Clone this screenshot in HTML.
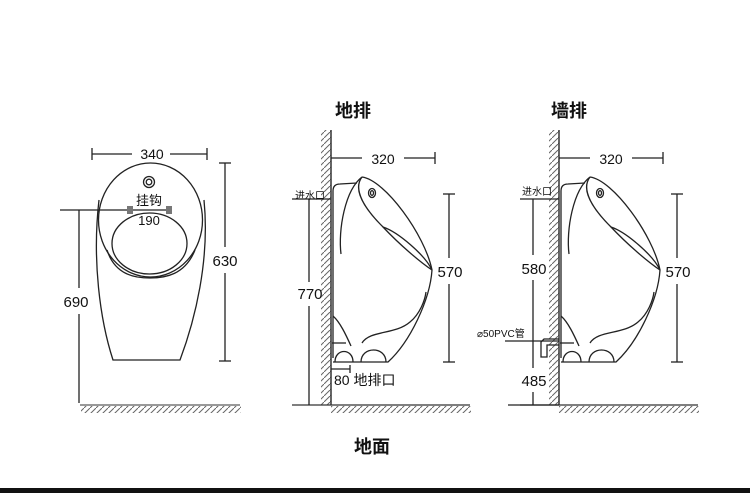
<!DOCTYPE html>
<html><head><meta charset="utf-8"><style>
html,body{margin:0;padding:0;background:#fff;}
svg{display:block;}
text{font-family:"Liberation Sans","Noto Sans CJK SC",sans-serif;fill:#111;}
</style></head><body>
<svg width="750" height="493" viewBox="0 0 750 493" xmlns="http://www.w3.org/2000/svg">
<defs>
<pattern id="hv" width="6" height="6" patternUnits="userSpaceOnUse">
<line x1="0" y1="6" x2="6" y2="0" stroke="#666" stroke-width="1"/>
</pattern>
<g id="side" fill="none" stroke="#222" stroke-width="1.3">
  <!-- wall -->
  <rect x="321" y="130" width="10" height="275" fill="url(#hv)" stroke="none"/>
  <line x1="331" y1="130" x2="331" y2="405" stroke="#333" stroke-width="1.5"/>
  <!-- ground -->
  <rect x="331" y="406" width="140" height="7" fill="url(#hv)" stroke="none"/>
  <line x1="292" y1="405" x2="470" y2="405" stroke="#333"/>
  <!-- 320 dim -->
  <line x1="331" y1="158" x2="362" y2="158"/>
  <line x1="404" y1="158" x2="435" y2="158"/>
  <line x1="435" y1="152" x2="435" y2="164"/>
  <!-- 570 dim -->
  <line x1="449" y1="194" x2="449" y2="258"/>
  <line x1="449" y1="284" x2="449" y2="362"/>
  <line x1="443" y1="194" x2="455" y2="194"/>
  <line x1="443" y1="362" x2="455" y2="362"/>
  <!-- urinal -->
  <path d="M333,358 L333,191 Q333,184 340,184 L357,183"/>
  <path d="M362,177 C385,180 425,235 432,270 C430,300 410,342 388,362 L333,362"/>
  <path d="M362,177 C345,190 338,230 341,254"/>
  <path d="M362,177 C352,190 366,210 383,227 C400,245 420,262 432,270"/>
  <path d="M383,227 C398,232 425,255 432,270"/>
  <ellipse cx="372" cy="193" rx="3.5" ry="4.5"/>
  <ellipse cx="372" cy="193" rx="1.5" ry="2.3"/>
  <path d="M333,316 C340,322 346,335 351,346"/>
  <line x1="332" y1="343" x2="346" y2="343"/>
  <path d="M335,362 C335,348 353,348 353,362"/>
  <path d="M361,362 C361,346 386,346 386,362"/>
  <path d="M362,343 C370,330 395,335 410,322 C420,314 425,300 426,292"/>
</g>
</defs>

<!-- titles -->
<text x="353" y="117" font-size="18" font-weight="bold" text-anchor="middle">地排</text>
<text x="569" y="117" font-size="18" font-weight="bold" text-anchor="middle">墙排</text>
<text x="372" y="453" font-size="18" font-weight="bold" text-anchor="middle">地面</text>
<rect x="0" y="488" width="750" height="5" fill="#111"/>

<!-- FRONT VIEW -->
<g fill="none" stroke="#222" stroke-width="1.3">
  <line x1="92" y1="154" x2="132" y2="154"/>
  <line x1="170" y1="154" x2="207" y2="154"/>
  <line x1="92" y1="148" x2="92" y2="160"/>
  <line x1="207" y1="148" x2="207" y2="160"/>
  <path d="M99,200 C92,260 100,320 113,360 L180,360 C195,320 210,260 204,200"/>
  <ellipse cx="150.5" cy="220" rx="52" ry="57"/>
  <ellipse cx="149.5" cy="243.5" rx="37.5" ry="30.5"/>
  <path d="M107,250 C115,275 135,278 150,278 C165,278 185,275 195,250"/>
  <circle cx="149" cy="182" r="5.5"/>
  <circle cx="149" cy="182" r="2.8"/>
  <line x1="60" y1="210" x2="170" y2="210"/>
  <line x1="79" y1="210" x2="79" y2="288"/>
  <line x1="79" y1="314" x2="79" y2="403"/>
  <line x1="225" y1="163" x2="225" y2="247"/>
  <line x1="225" y1="273" x2="225" y2="361"/>
  <line x1="219" y1="163" x2="231" y2="163"/>
  <line x1="219" y1="361" x2="231" y2="361"/>
</g>
<rect x="127" y="206" width="6" height="8" fill="#777"/>
<rect x="166" y="206" width="6" height="8" fill="#777"/>
<rect x="81" y="406" width="160" height="7" fill="url(#hv)"/>
<line x1="80" y1="405" x2="240" y2="405" stroke="#333"/>
<text x="152" y="159" font-size="14" text-anchor="middle">340</text>
<text x="149" y="205" font-size="13" text-anchor="middle">挂钩</text>
<text x="149" y="225" font-size="13" text-anchor="middle">190</text>
<text x="76" y="307" font-size="15" text-anchor="middle">690</text>
<text x="225" y="266" font-size="15" text-anchor="middle">630</text>

<!-- MIDDLE VIEW -->
<use href="#side"/>
<g fill="none" stroke="#222" stroke-width="1.3">
  <line x1="292" y1="199" x2="331" y2="199"/>
  <line x1="309" y1="199" x2="309" y2="282"/>
  <line x1="309" y1="306" x2="309" y2="405"/>
  <line x1="331" y1="369" x2="350" y2="369"/>
  <line x1="350" y1="365" x2="350" y2="373"/>
</g>
<text x="383" y="164" font-size="14" text-anchor="middle">320</text>
<text x="450" y="277" font-size="15" text-anchor="middle">570</text>
<text x="310" y="199" font-size="10" text-anchor="middle">进水口</text>
<text x="310" y="299" font-size="15" text-anchor="middle">770</text>
<text x="334" y="385" font-size="14">80 地排口</text>

<!-- RIGHT VIEW -->
<use href="#side" transform="translate(228,0)"/>
<g fill="none" stroke="#222" stroke-width="1.3">
  <line x1="520" y1="199" x2="559" y2="199"/>
  <line x1="533" y1="199" x2="533" y2="255"/>
  <line x1="533" y1="280" x2="533" y2="368"/>
  <line x1="533" y1="392" x2="533" y2="405"/>
  <line x1="505" y1="341" x2="559" y2="341"/>
  <line x1="508" y1="405" x2="559" y2="405"/>
  <path d="M559,339 L544,339 L541,342 L541,357 L547,357 L547,345 L559,345"/>
</g>
<text x="611" y="164" font-size="14" text-anchor="middle">320</text>
<text x="678" y="277" font-size="15" text-anchor="middle">570</text>
<text x="537" y="195" font-size="10" text-anchor="middle">进水口</text>
<text x="534" y="274" font-size="15" text-anchor="middle">580</text>
<text x="534" y="386" font-size="15" text-anchor="middle">485</text>
<text x="477" y="337" font-size="10">⌀50PVC管</text>
</svg>
</body></html>
